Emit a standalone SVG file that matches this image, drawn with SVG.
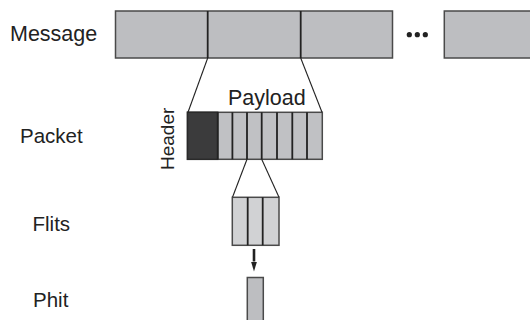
<svg xmlns="http://www.w3.org/2000/svg" width="530" height="320" viewBox="0 0 530 320">
  <defs>
    <style>
      .lbl { font-family: "Liberation Sans", Arial, sans-serif; font-size: 20.5px; fill: #222; }
      .big { font-size: 21.5px; }
      .box { stroke: #4a4a4a; stroke-width: 1.5; }
      .msg { fill: #bdbec1; }
      .pay { fill: #c0c1c4; }
      .flit { fill: #d1d2d4; }
      .div { stroke: #222; stroke-width: 1.8; fill: none; }
      .conn { stroke: #222; stroke-width: 1.1; fill: none; }
    </style>
    <marker id="arrowHead" viewBox="0 0 10 6" refX="0" refY="3" markerWidth="10" markerHeight="6" markerUnits="userSpaceOnUse" orient="auto">
      <path d="M0,0 L10,3 L0,6 Z" fill="#222"/>
    </marker>
  </defs>
  <rect width="530" height="320" fill="#ffffff"/>

  <!-- level labels -->
  <text class="lbl big" x="10" y="41.3">Message</text>
  <text class="lbl" x="20" y="142.5">Packet</text>
  <text class="lbl" x="32.5" y="231">Flits</text>
  <text class="lbl" x="33" y="307">Phit</text>

  <!-- message made of segments -->
  <g id="message">
    <rect class="box msg" x="115.5" y="11" width="277" height="47"/>
    <line class="div" x1="207.7" y1="11" x2="207.7" y2="58"/>
    <line class="div" x1="300.7" y1="11" x2="300.7" y2="58"/>
    <g fill="#222">
      <circle cx="409.3" cy="34.7" r="2.6"/>
      <circle cx="417.3" cy="34.7" r="2.6"/>
      <circle cx="425.3" cy="34.7" r="2.6"/>
    </g>
    <rect class="box msg" x="444.3" y="11" width="100" height="47"/>
  </g>

  <!-- packet: header + payload -->
  <g id="packet">
    <rect class="box pay" x="187.5" y="112.3" width="134.8" height="47"/>
    <rect x="187.5" y="112.3" width="30.2" height="47" fill="#3b3b3c" stroke="#2a2a2a" stroke-width="1.5"/>
    <path class="div" d="M217.7,112.3V159.3 M232.4,112.3V159.3 M247,112.3V159.3 M261.7,112.3V159.3 M277,112.3V159.3 M292.3,112.3V159.3 M307,112.3V159.3"/>
    <text class="lbl big" x="228" y="105">Payload</text>
    <text class="lbl" transform="translate(174,170) rotate(-90)" style="font-size:19px">Header</text>
  </g>

  <!-- flits -->
  <g id="flits">
    <rect class="box flit" x="232.3" y="197.3" width="46.7" height="48"/>
    <path class="div" d="M247.7,197.3V245.3 M262.7,197.3V245.3"/>
  </g>

  <!-- phit -->
  <g id="phit">
    <rect class="box msg" x="247.3" y="277.5" width="16" height="50"/>
  </g>

  <!-- connectors -->
  <g id="connectors">
    <line class="conn" x1="207.7" y1="58" x2="188" y2="112.3"/>
    <line class="conn" x1="300.7" y1="58" x2="322" y2="112.3"/>
    <line class="conn" x1="247" y1="159.3" x2="232.5" y2="197.3"/>
    <line class="conn" x1="261.7" y1="159.3" x2="279" y2="197.3"/>
    <line x1="254" y1="249" x2="254" y2="261.5" stroke="#222" stroke-width="2.6" marker-end="url(#arrowHead)"/>
  </g>
</svg>
